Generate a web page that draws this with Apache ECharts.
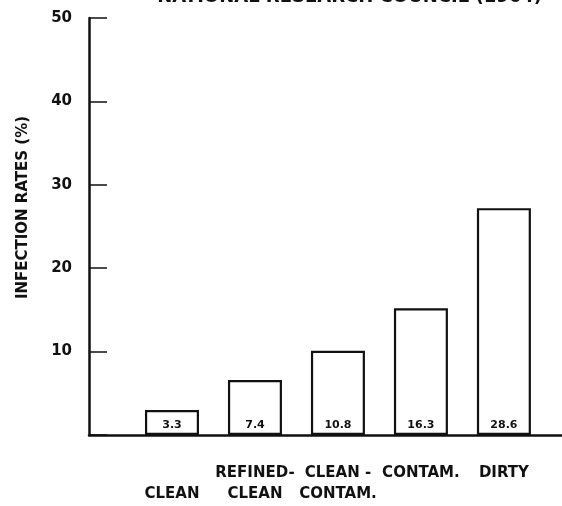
<!DOCTYPE html>
<html>
<head>
<meta charset="utf-8">
<script src="https://cdn.jsdelivr.net/npm/echarts@6/dist/echarts.min.js"></script>
<style>
html, body { margin: 0; padding: 0; background: #fff; }
#chart { width: 562px; height: 506px; }
</style>
</head>
<body>
<div id="chart"></div>
<script>
// wound classes (bottom labels, two lines each)
var categories = ['\nCLEAN', 'REFINED-\nCLEAN', 'CLEAN -\nCONTAM.', 'CONTAM.\n', 'DIRTY\n'];
// bar heights as drawn on the figure
var heights = [3.0, 6.6, 10.1, 15.2, 27.2];
// numbers printed inside the bars
var printed = ['3.3', '7.4', '10.8', '16.3', '28.6'];
var yTicks = [0, 10, 20, 30, 40, 50];

var font = '"DejaVu Sans", sans-serif';

var myChart = echarts.init(document.getElementById('chart'));

var barData = heights.map(function (h, i) { return [i + 1, h]; });

option = {
    animation: false,
    backgroundColor: '#fff',
    //partial heading cut by the top edge of the scan
    graphic: [{
        type: 'text',
        right: 20,
        top: -12,
        style: {
            text: 'NATIONAL RESEARCH COUNCIL (1964)',
            fontFamily: font,
            fontWeight: 'bold',
            fontSize: 18,
            fill: '#111'
        }
    }],
    grid: {
        left: 89,
        right: 0,
        top: 18,
        bottom: 71,
        outerBoundsMode: 'none'
    },
    xAxis: {
        type: 'value',
        min: 0,
        max: 5.7,
        interval: 1,
        axisLine: { show: true, lineStyle: { color: '#111', width: 2.5 } },
        axisTick: { show: false },
        splitLine: { show: false },
        axisLabel: {
            showMaxLabel: false,
            margin: 28,
            lineHeight: 21,
            fontFamily: font,
            fontWeight: 'bold',
            fontSize: 15,
            color: '#111',
            formatter: function (v) {
                return categories[v - 1] || '';
            }
        }
    },
    yAxis: {
        type: 'value',
        min: yTicks[0],
        max: yTicks[yTicks.length - 1],
        interval: 10,
        name: 'INFECTION RATES (%)',
        nameLocation: 'middle',
        nameGap: 58,
        nameTextStyle: {
            fontFamily: font,
            fontWeight: 'bold',
            fontSize: 15,
            color: '#111',
            padding: [0, 0, 0, 38]
        },
        axisLine: { show: true, lineStyle: { color: '#111', width: 2.5 } },
        axisTick: { show: true, inside: true, length: 18, lineStyle: { color: '#111', width: 1.5 } },
        splitLine: { show: false },
        axisLabel: {
            margin: 17,
            fontFamily: font,
            fontWeight: 'bold',
            fontSize: 15,
            color: '#111',
            formatter: function (v) { return v === 0 ? '' : v; }
        }
    },
    series: [{
        type: 'bar',
        barWidth: 54,
        data: barData,
        itemStyle: {
            color: '#fff',
            borderColor: '#111',
            borderWidth: 2.2
        },
        label: {
            show: true,
            position: 'insideBottom',
            distance: 4,
            fontFamily: font,
            fontWeight: 'bold',
            fontSize: 11,
            color: '#111',
            formatter: function (p) { return printed[p.dataIndex]; }
        }
    }]
};

myChart.setOption(option);
</script>
</body>
</html>
